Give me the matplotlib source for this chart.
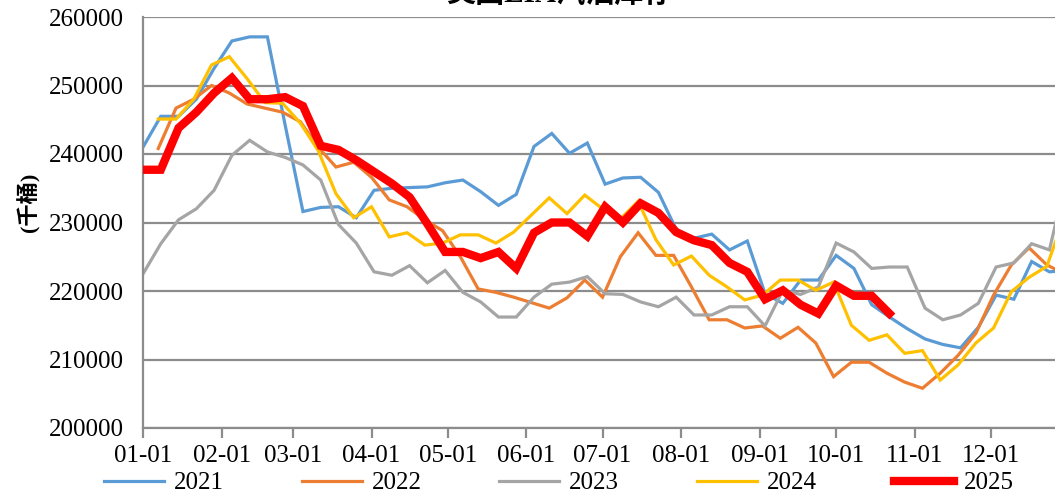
import numpy as np
import pandas as pd
import matplotlib
matplotlib.use("Agg")
import matplotlib.pyplot as plt

# weekly gasoline stocks (thousand barrels)
first_week = {"2021": "2021-01-01", "2022": "2022-01-07", "2023": "2023-01-01",
              "2024": "2024-01-07", "2025": "2025-01-01"}

s2021 = [241000, 245500, 245500, 248000, 252500, 256500, 257100, 257100, 244200, 231600,
         232200, 232300, 230700, 234700, 235000, 235100, 235200, 235800, 236200, 234500,
         232500, 234100, 241100, 243000, 240100, 241600, 235600, 236500, 236600, 234400,
         229000, 227700, 228300, 226000, 227300, 219600, 218200, 221600, 221600, 225200,
         223300, 218000, 216200, 214500, 213000, 212200, 211700, 214700, 219400, 218800,
         224300, 222800, 223000]
s2022 = [240800, 246700, 248000, 250000, 248900, 247300, 246700, 246100, 244700, 241000,
         238100, 238800, 236600, 233300, 232300, 230400, 228800, 225000, 220300, 219800,
         219100, 218300, 217500, 219000, 221600, 219100, 225000, 228500, 225200, 225200,
         220600, 215800, 215800, 214600, 214900, 213100, 214700, 212400, 207500, 209600,
         209600, 208000, 206700, 205800, 208000, 210600, 213800, 219400, 223800, 226300,
         223800, 222500]
s2023 = [222500, 226900, 230400, 232000, 234700, 239800, 242000, 240300, 239500, 238400,
         236200, 229700, 227000, 222800, 222300, 223700, 221200, 223000, 219800, 218400,
         216200, 216200, 219100, 221000, 221300, 222100, 219600, 219500, 218400, 217700,
         219100, 216500, 216500, 217700, 217700, 214900, 220100, 219500, 220600, 227000,
         225700, 223300, 223500, 223500, 217500, 215800, 216500, 218200, 223500, 224100,
         226900, 226000, 237000]
s2024 = [245100, 245100, 248000, 253000, 254200, 251000, 247500, 247400, 244500, 240500,
         234200, 230700, 232300, 227900, 228500, 226700, 227000, 228200, 228200, 227000,
         228600, 231100, 233600, 231300, 234000, 232000, 230500, 233100, 227500, 223800,
         225100, 222300, 220600, 218700, 219400, 221600, 221600, 220100, 221300, 215000,
         212800, 213600, 210900, 211300, 207000, 209200, 212400, 214600, 219900, 222000,
         223600, 231000]
s2025 = [237700, 237700, 243800, 246100, 248900, 251100, 248000, 248000, 248300, 247000,
         241200, 240600, 239100, 237400, 235700, 233700, 229800, 225700, 225700, 224800,
         225700, 223300, 228500, 230000, 230000, 228000, 232300, 230000, 232800, 231400,
         228600, 227400, 226700, 224100, 222800, 218800, 220100, 218000, 216700, 220800,
         219300, 219300, 216700]

series = {"2021": s2021, "2022": s2022, "2023": s2023, "2024": s2024, "2025": s2025}
colors = {"2021": "#5B9BD5", "2022": "#ED7D31", "2023": "#A5A5A5",
          "2024": "#FFC000", "2025": "#FF0000"}
widths = {"2021": 2.3, "2022": 2.3, "2023": 2.3, "2024": 2.3, "2025": 6.0}

month_labels = ["01-01", "02-01", "03-01", "04-01", "05-01", "06-01",
                "07-01", "08-01", "09-01", "10-01", "11-01", "12-01"]
month_days = [0, 31, 59, 90, 120, 151, 181, 212, 243, 273, 304, 334]

serif = ["Liberation Serif", "Noto Sans CJK SC"]
plt.rcParams["font.family"] = serif

fig = plt.figure(figsize=(10.55, 4.96), dpi=100)
ax = fig.add_axes([143 / 1055, 68 / 496, 912 / 1055, 411 / 496])

for year, vals in series.items():
    start = pd.Timestamp(first_week[year])
    dates = pd.date_range(start, periods=len(vals), freq="7D")
    days = (dates - pd.Timestamp(f"{year}-01-01")).days
    ax.plot(days, vals, color=colors[year], lw=widths[year], label=year,
            solid_joinstyle="miter", zorder=3 if year == "2025" else 2)

ax.set_xlim(0, 359.2)
ax.set_ylim(200000, 260000)
ax.set_yticks(np.arange(200000, 260001, 10000))
ax.set_xticks(month_days)
ax.set_xticklabels(month_labels)
ax.yaxis.grid(True, color="#8C8C8C", lw=1.6)
ax.set_axisbelow(True)

for side in ["top", "right"]:
    ax.spines[side].set_visible(False)
for side in ["left", "bottom"]:
    ax.spines[side].set_color("#8C8C8C")
    ax.spines[side].set_linewidth(1.6)

ax.tick_params(axis="y", length=0, pad=14, labelsize=18)
ax.tick_params(axis="x", length=7, width=1.6, color="#8C8C8C", pad=5, labelsize=18)

ax.set_ylabel("(千桶)", fontsize=16, fontweight="bold", labelpad=2)
ax.yaxis.set_label_coords(-0.112, 0.55)

fig.text(0.53, 1.012, "美国EIA汽油库存", ha="center", va="center", fontsize=21,
         fontweight="bold", family=["Liberation Serif", "Noto Sans CJK SC"])

fig.legend(loc="center", bbox_to_anchor=(0.53, 0.026), ncol=5, frameon=False,
           fontsize=18, handlelength=2.4, handletextpad=0.4, columnspacing=3.1)

fig.savefig("out.png", dpi=100)
